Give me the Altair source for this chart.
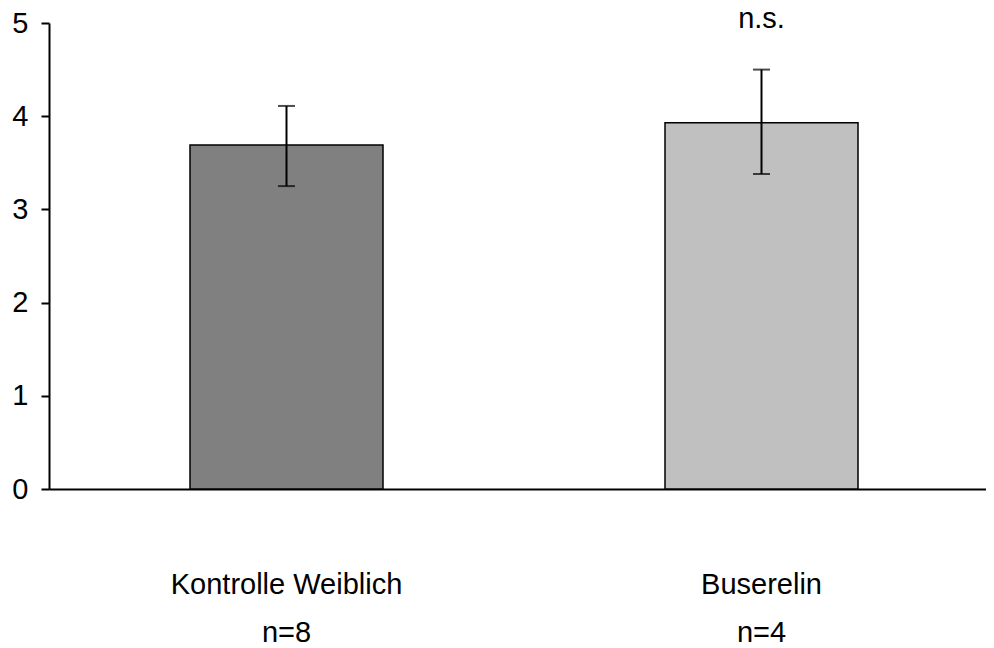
import altair as alt
import pandas as pd

groups = ["Kontrolle Weiblich", "Buserelin"]
means = [3.69, 3.93]
upper = [4.11, 4.50]
lower = [3.25, 3.38]
colors = ["#808080", "#C0C0C0"]
n_labels = ["n=8", "n=4"]
sig_labels = ["", "n.s."]
y_ticks = [0, 1, 2, 3, 4, 5]

df = pd.DataFrame({
    "group": groups,
    "mean": means,
    "upper": upper,
    "lower": lower,
    "n": n_labels,
    "sig": sig_labels,
})

FONT = "Liberation Sans"
FS = 29

xscale = alt.Scale(domain=groups, paddingInner=0, paddingOuter=0, range=[0, 950])

x = alt.X(
    "group:N",
    sort=groups,
    scale=xscale,
    axis=alt.Axis(
        title=None, labelAngle=0, ticks=False, tickSize=0,
        labelPadding=104, labelBaseline="alphabetic",
        labelFontSize=FS, labelFont=FONT, labelColor="black",
        labelLimit=0, domainColor="black", domainWidth=2,
    ),
)
xs = alt.X("group:N", sort=groups, scale=xscale)

base = alt.Chart(df)

bars = base.mark_bar(size=193, stroke="black", strokeWidth=1.5).encode(
    x=x,
    y=alt.Y(
        "mean:Q",
        scale=alt.Scale(domain=[0, 5], nice=False),
        axis=alt.Axis(
            title=None, values=y_ticks, format="d", grid=False,
            tickSize=8, tickWidth=2, tickColor="black",
            domainColor="black", domainWidth=2,
            labelFontSize=FS, labelFont=FONT, labelColor="black",
            labelPadding=13,
        ),
    ),
    color=alt.Color("group:N", scale=alt.Scale(domain=groups, range=colors), legend=None),
)

err = base.mark_rule(color="black", strokeWidth=2).encode(
    x=xs,
    y="lower:Q",
    y2="upper:Q",
)

cap_hi = base.mark_tick(color="black", size=17, thickness=2).encode(
    x=xs,
    y="upper:Q",
)
cap_lo = base.mark_tick(color="black", size=17, thickness=2).encode(
    x=xs,
    y="lower:Q",
)

sig = base.mark_text(baseline="alphabetic", fontSize=FS, font=FONT, color="black").encode(
    x=xs,
    y=alt.value(5),
    text="sig:N",
)

nlab = base.mark_text(baseline="alphabetic", fontSize=FS, font=FONT, color="black").encode(
    x=xs,
    y=alt.value(619),
    text="n:N",
)

chart = (
    alt.layer(bars, err, cap_hi, cap_lo, sig, nlab)
    .properties(
        width=937,
        height=466,
        autosize=alt.AutoSizeParams(type="none"),
        padding={"left": 41, "top": 15, "right": 0, "bottom": 159},
    )
    .configure(font=FONT)
    .configure_view(strokeWidth=0, stroke="transparent")
)

chart.save("out.html", embed_options={"renderer": "svg", "actions": False})
